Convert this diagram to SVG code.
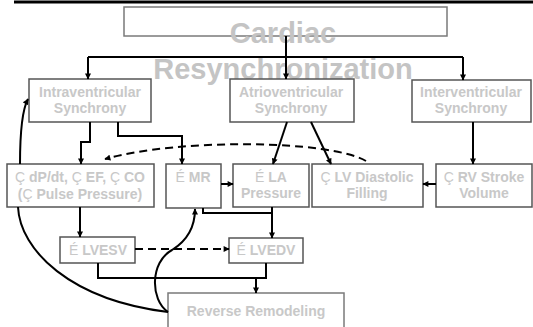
<svg xmlns="http://www.w3.org/2000/svg" width="533" height="327" viewBox="0 0 533 327">
  <style>
    text { font-family: "Liberation Sans", Arial, sans-serif; font-weight: bold; font-size: 14px; fill: #c8c8c8; text-anchor: middle; }
    .sym { font-weight: normal; }
    .title { font-size: 29px; fill: #c4c4c4; }
    .box { fill: #ffffff; stroke: #555555; stroke-width: 1.5; }
    .box-light { fill: #ffffff; stroke: #7a7a7a; stroke-width: 1.5; }
    .wire { fill: none; stroke: #000000; stroke-width: 2; }
    .dash { stroke-dasharray: 8 5; }
  </style>
  <defs>
    <marker id="arrow" viewBox="0 0 10 10" refX="9" refY="5" markerWidth="7" markerHeight="6" markerUnits="userSpaceOnUse" orient="auto">
      <path d="M0,0 L10,5 L0,10 z" fill="#000000"/>
    </marker>
  </defs>

  <!-- header rule -->
  <line x1="14" y1="2" x2="533" y2="2" stroke="#000000" stroke-width="3"/>

  <g id="crt">
    <rect class="box-light" x="124" y="7" width="323" height="29"/>
    <text class="title" x="283" y="43">Cardiac</text>
    <text class="title" x="283" y="79">Resynchronization</text>
  </g>

  <g id="intraventricular">
    <rect class="box" x="29" y="79" width="122" height="43"/>
    <text x="90" y="97">Intraventricular</text>
    <text x="90" y="113">Synchrony</text>
  </g>

  <g id="atrioventricular">
    <rect class="box" x="230" y="79" width="124" height="43"/>
    <text x="291" y="97">Atrioventricular</text>
    <text x="291" y="113">Synchrony</text>
  </g>

  <g id="interventricular">
    <rect class="box" x="412" y="80" width="119" height="42"/>
    <text x="471" y="97">Interventricular</text>
    <text x="471" y="113">Synchrony</text>
  </g>

  <g id="contractility">
    <rect class="box" x="7" y="164" width="147" height="43"/>
    <text x="80" y="182"><tspan class="sym">Ç</tspan> dP/dt, <tspan class="sym">Ç</tspan> EF, <tspan class="sym">Ç</tspan> CO</text>
    <text x="80" y="199">(<tspan class="sym">Ç</tspan> Pulse Pressure)</text>
  </g>

  <g id="mr">
    <rect class="box" x="166" y="164" width="55" height="44"/>
    <text x="193" y="182"><tspan class="sym">É</tspan> MR</text>
  </g>

  <g id="la-pressure">
    <rect class="box" x="233" y="164" width="76" height="43"/>
    <text x="271" y="182"><tspan class="sym">É</tspan> LA</text>
    <text x="271" y="198">Pressure</text>
  </g>

  <g id="lv-filling">
    <rect class="box" x="312" y="164" width="111" height="43"/>
    <text x="367" y="182"><tspan class="sym">Ç</tspan> LV Diastolic</text>
    <text x="367" y="198">Filling</text>
  </g>

  <g id="rv-stroke">
    <rect class="box" x="436" y="164" width="96" height="43"/>
    <text x="484" y="182"><tspan class="sym">Ç</tspan> RV Stroke</text>
    <text x="484" y="198">Volume</text>
  </g>

  <g id="lvesv">
    <rect class="box" x="60" y="237" width="75" height="26"/>
    <text x="98" y="255"><tspan class="sym">É</tspan> LVESV</text>
  </g>

  <g id="lvedv">
    <rect class="box" x="229" y="238" width="74" height="25"/>
    <text x="266" y="255"><tspan class="sym">É</tspan> LVEDV</text>
  </g>

  <g id="remodeling">
    <rect class="box-light" x="168" y="293" width="176" height="45"/>
    <text x="256" y="316">Reverse Remodeling</text>
  </g>

  <g id="connectors">
    <!-- CRT fans out to the three synchrony types -->
    <path class="wire" d="M286,36 V79" marker-end="url(#arrow)"/>
    <path class="wire" d="M88,57 H463"/>
    <path class="wire" d="M88,57 V79" marker-end="url(#arrow)"/>
    <path class="wire" d="M463,57 V80" marker-end="url(#arrow)"/>

    <!-- intraventricular -->
    <path class="wire" d="M90,122 V142 H81 V164" marker-end="url(#arrow)"/>
    <path class="wire" d="M118,122 V136 H182 V164" marker-end="url(#arrow)"/>

    <!-- atrioventricular -->
    <path class="wire" d="M287,122 L273,164" marker-end="url(#arrow)"/>
    <path class="wire" d="M311,122 L331,164" marker-end="url(#arrow)"/>

    <!-- interventricular -->
    <path class="wire" d="M473,122 V164" marker-end="url(#arrow)"/>
    <path class="wire" d="M436,184 H423" marker-end="url(#arrow)"/>

    <!-- filling feeds back to contractility -->
    <path class="wire dash" d="M366,161 C330,140 180,138 105,159" marker-end="url(#arrow)"/>

    <!-- MR and LA pressure -->
    <path class="wire" d="M221,184 H233" marker-end="url(#arrow)"/>
    <path class="wire" d="M203,208 V213 H272"/>
    <path class="wire" d="M272,207 V238" marker-end="url(#arrow)"/>

    <!-- volumes -->
    <path class="wire" d="M80,207 V237" marker-end="url(#arrow)"/>
    <path class="wire dash" d="M135,249 H229" marker-end="url(#arrow)"/>
    <path class="wire" d="M98,263 V278 H266 V263"/>
    <path class="wire" d="M256,278 V293" marker-end="url(#arrow)"/>

    <!-- remodeling feedback loops -->
    <path class="wire" d="M168,312 C150,300 150,262 172,250 C185,242 195,230 195,209" marker-end="url(#arrow)"/>
    <path class="wire" d="M168,312 C70,300 20,250 18,207"/>
    <path class="wire" d="M20,164 C20,130 22,110 28,99" marker-end="url(#arrow)"/>
  </g>
</svg>
